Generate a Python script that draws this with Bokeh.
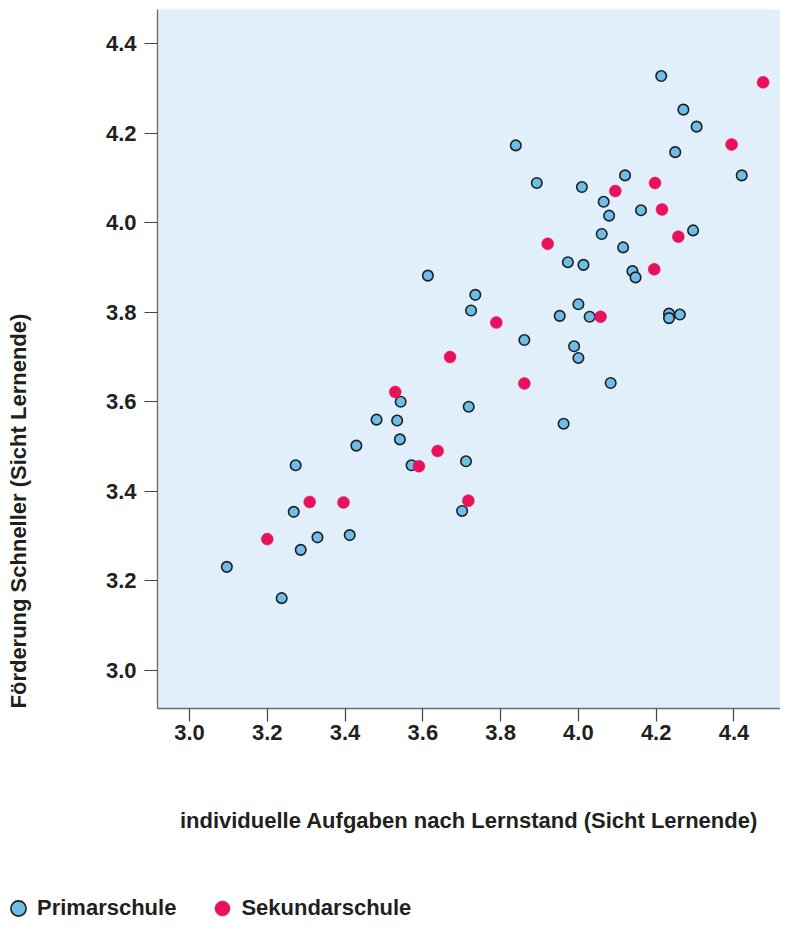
from bokeh.plotting import figure
from bokeh.layouts import column, row
from bokeh.models import (Range1d, FixedTicker, NumeralTickFormatter, Title,
                          Legend, LegendItem, ColumnDataSource)
from bokeh.embed import file_html
from bokeh.resources import INLINE

# ---- data ----
primar_x = [3.096, 3.237, 3.268, 3.273, 3.286, 3.329, 3.412, 3.429, 3.481, 3.534,
            3.543, 3.541, 3.571, 3.613, 3.701, 3.711, 3.718, 3.724, 3.735, 3.839,
            3.861, 3.893, 3.952, 3.962, 3.973, 3.989, 4.000, 4.000, 4.009, 4.013,
            4.029, 4.060, 4.065, 4.079, 4.083, 4.115, 4.120, 4.139, 4.147, 4.161,
            4.213, 4.233, 4.233, 4.249, 4.261, 4.270, 4.295, 4.304, 4.420]
primar_y = [3.231, 3.161, 3.354, 3.458, 3.269, 3.297, 3.302, 3.502, 3.560, 3.558,
            3.600, 3.516, 3.458, 3.882, 3.356, 3.467, 3.589, 3.804, 3.839, 4.173,
            3.738, 4.089, 3.792, 3.551, 3.912, 3.724, 3.818, 3.698, 4.080, 3.906,
            3.790, 3.975, 4.047, 4.016, 3.642, 3.945, 4.106, 3.892, 3.878, 4.028,
            4.328, 3.797, 3.787, 4.158, 3.795, 4.253, 3.983, 4.215, 4.106]
sekundar_x = [3.200, 3.309, 3.396, 3.529, 3.590, 3.638, 3.670, 3.717, 3.789, 3.861,
              3.921, 4.057, 4.095, 4.195, 4.197, 4.215, 4.257, 4.394, 4.475]
sekundar_y = [3.293, 3.376, 3.375, 3.622, 3.456, 3.490, 3.700, 3.379, 3.777, 3.641,
              3.953, 3.790, 4.071, 3.896, 4.089, 4.030, 3.969, 4.175, 4.314]
series_names = ["Primarschule", "Sekundarschule"]
ticks = [3.0, 3.2, 3.4, 3.6, 3.8, 4.0, 4.2, 4.4]
x_label = "individuelle Aufgaben nach Lernstand (Sicht Lernende)"
y_label = "Förderung Schneller (Sicht Lernende)"

FONT = "Liberation Sans"
FS = "22px"
TXT = "#231f20"
BLUE = "#6dbde9"
RED = "#e8125c"
W = 780
W_YLAB = 40
H_MAIN = 880
H_LEG = 39
FRAME_BOTTOM = 708

# ---- narrow strip carrying the y-axis title (starts at the frame bottom) ----
yf = figure(width=W_YLAB, height=H_MAIN, output_backend="svg",
            toolbar_location=None, x_axis_type=None, y_axis_type=None,
            x_range=Range1d(0, 1), y_range=Range1d(0, 1),
            min_border_left=0, min_border_right=0, min_border_top=9,
            min_border_bottom=H_MAIN - FRAME_BOTTOM)
yf.outline_line_color = None
yf.background_fill_color = "white"
yf.border_fill_color = "white"
yf.add_layout(Title(text=y_label, align="left", standoff=6, text_font=FONT,
                    text_font_size=FS, text_font_style="bold",
                    text_color=TXT), "left")

# ---- main scatter chart ----
p = figure(width=W - W_YLAB, height=H_MAIN, output_backend="svg",
           toolbar_location=None,
           x_range=Range1d(2.9177, 4.5197), y_range=Range1d(2.9144, 4.4768),
           min_border_left=157 - W_YLAB, min_border_right=0, min_border_top=9,
           min_border_bottom=H_MAIN - FRAME_BOTTOM)
p.background_fill_color = "#e1effa"
p.border_fill_color = "white"
p.outline_line_color = None
p.grid.visible = False

for ax in (p.xaxis[0], p.yaxis[0]):
    ax.ticker = FixedTicker(ticks=ticks)
    ax.formatter = NumeralTickFormatter(format="0.0")
    ax.major_tick_in = 0
    ax.major_tick_out = 13
    ax.minor_tick_line_color = None
    ax.axis_line_color = "#6b6b6b"
    ax.axis_line_width = 1.3
    ax.major_tick_line_color = "#444444"
    ax.major_tick_line_width = 1.2
    ax.major_label_text_font = FONT
    ax.major_label_text_font_size = FS
    ax.major_label_text_font_style = "bold"
    ax.major_label_text_color = TXT
p.yaxis.major_label_standoff = 8
p.xaxis.major_label_standoff = 3

p.xaxis.axis_label = x_label
p.xaxis.axis_label_standoff = 65
p.xaxis.axis_label_text_font = FONT
p.xaxis.axis_label_text_font_size = FS
p.xaxis.axis_label_text_font_style = "bold"
p.xaxis.axis_label_text_color = TXT

src_p = ColumnDataSource(dict(x=primar_x, y=primar_y))
src_s = ColumnDataSource(dict(x=sekundar_x, y=sekundar_y))
sty_p = dict(size=10.5, fill_color=BLUE, line_color="#1f1f1f", line_width=1.6)
sty_s = dict(size=12, fill_color=RED, line_color=RED, line_width=0.5)
p.scatter("x", "y", source=src_p, **sty_p)
p.scatter("x", "y", source=src_s, **sty_s)

# ---- legend strip below the chart ----
lf = figure(width=W, height=H_LEG, output_backend="svg", toolbar_location=None,
            x_axis_type=None, y_axis_type=None,
            x_range=Range1d(0, 1), y_range=Range1d(0, 1),
            min_border=0, min_border_left=0, min_border_right=0,
            min_border_top=0, min_border_bottom=0)
lf.outline_line_color = None
lf.background_fill_color = "white"
lf.border_fill_color = "white"
lg_p = lf.scatter("x", "y", source=src_p, **sty_p)
lg_s = lf.scatter("x", "y", source=src_s, **sty_s)
legend = Legend(items=[LegendItem(label=series_names[0], renderers=[lg_p]),
                       LegendItem(label=series_names[1], renderers=[lg_s])],
                orientation="horizontal", location=(-1, -8),
                glyph_width=38, glyph_height=38, label_standoff=0, spacing=27,
                padding=0, margin=0, border_line_color=None,
                background_fill_alpha=0, label_text_font=FONT,
                label_text_font_size=FS, label_text_font_style="bold",
                label_text_color=TXT)
lf.add_layout(legend)

layout = column(row(yf, p, spacing=0), row(lf), spacing=0)
open("out.html", "w").write(file_html(layout, INLINE))
